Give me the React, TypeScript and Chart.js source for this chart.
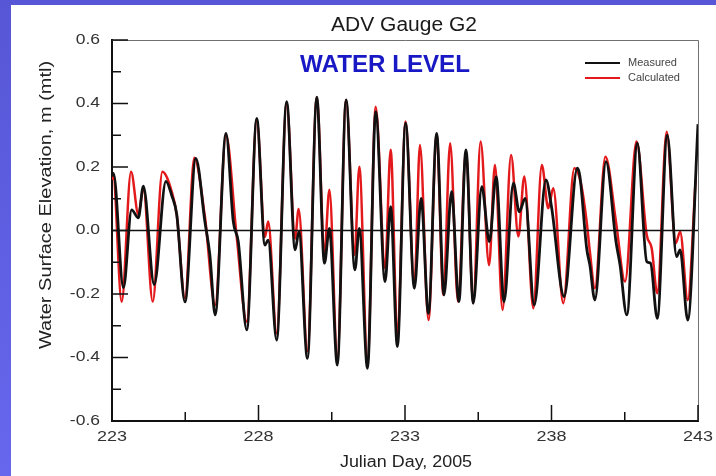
import React, { useEffect, useRef } from "react";
import { Chart, registerables } from "chart.js";

Chart.register(...registerables);

// Measured water level at ADV gauge G2 (Julian day, metres above MTL)
const measuredDays = [
  223.0, 223.05, 223.39, 223.67, 223.9, 224.07, 224.44, 224.84, 225.04, 225.21,
  225.49, 225.86, 226.17, 226.34, 226.52, 226.89, 227.14, 227.31, 227.6, 227.94,
  228.22, 228.33, 228.62, 228.96, 229.25, 229.38, 229.67, 229.99, 230.25, 230.42,
  230.69, 230.99, 231.29, 231.44, 231.72, 232.0, 232.32, 232.51, 232.74, 233.02,
  233.32, 233.55, 233.8, 234.08, 234.33, 234.59, 234.84, 235.08, 235.33, 235.62,
  235.88, 236.11, 236.38, 236.7, 236.9, 237.1, 237.41, 237.81, 238.0, 238.43,
  238.88, 238.97, 239.2, 239.31, 239.48, 239.86, 240.2, 240.34, 240.57, 240.93,
  241.25, 241.38, 241.61, 241.95, 242.27, 242.39, 242.65, 243.0,
];
const measuredLevels = [
  0.17, 0.18, -0.18, 0.065, 0.04, 0.14, -0.17, 0.155, 0.11, 0.05,
  -0.225, 0.227, 0.028, -0.077, -0.266, 0.306, 0.028, -0.035, -0.313, 0.353,
  -0.046, -0.03, -0.345, 0.406, -0.061, -0.004, -0.403, 0.42, -0.103, 0.007,
  -0.424, 0.411, -0.124, 0.007, -0.434, 0.374, -0.161, 0.075, -0.366, 0.338,
  -0.182, 0.101, -0.261, 0.306, -0.203, 0.122, -0.224, 0.254, -0.229, 0.138,
  -0.035, 0.17, -0.224, 0.149, 0.059, 0.101, -0.235, 0.159, 0.075, -0.208,
  0.196, 0.17, -0.056, -0.109, -0.219, 0.217, -0.035, -0.109, -0.266, 0.275,
  -0.098, -0.103, -0.277, 0.3, -0.082, -0.061, -0.282, 0.335,
];

// Model-calculated water level at the same gauge
const calculatedDays = [
  223.0, 223.04, 223.33, 223.65, 223.9, 224.07, 224.39, 224.72, 225.04, 225.21,
  225.49, 225.81, 226.17, 226.52, 226.89, 227.25, 227.6, 227.94, 228.22, 228.33,
  228.62, 228.96, 229.25, 229.37, 229.67, 229.99, 230.25, 230.42, 230.69, 230.99,
  231.28, 231.44, 231.72, 232.0, 232.32, 232.51, 232.74, 233.02, 233.32, 233.51,
  233.8, 234.08, 234.31, 234.54, 234.81, 235.08, 235.33, 235.58, 235.87, 236.07,
  236.33, 236.62, 236.87, 237.07, 237.38, 237.67, 237.89, 238.06, 238.4, 238.78,
  239.0, 239.2, 239.31, 239.48, 239.84, 240.2, 240.51, 240.9, 241.25, 241.42,
  241.61, 241.93, 242.24, 242.39, 242.65, 242.92,
];
const calculatedLevels = [
  0.16, 0.17, -0.224, 0.185, 0.05, 0.133, -0.224, 0.185, 0.122, 0.049,
  -0.213, 0.229, 0.044, -0.235, 0.3, -0.014, -0.287, 0.348, -0.02, 0.028,
  -0.324, 0.4, -0.025, 0.068, -0.38, 0.42, -0.067, 0.128, -0.403, 0.411,
  -0.077, 0.201, -0.418, 0.39, -0.119, 0.254, -0.329, 0.343, -0.177, 0.269,
  -0.282, 0.3, -0.203, 0.275, -0.224, 0.25, -0.229, 0.28, -0.109, 0.206,
  -0.25, 0.238, -0.019, 0.17, -0.245, 0.206, 0.07, 0.133, -0.229, 0.196,
  0.15, 0.028, -0.067, -0.182, 0.232, 0.028, -0.161, 0.28, -0.014, -0.056,
  -0.198, 0.311, -0.04, -0.004, -0.219, 0.16,
];

const dayRange = [223, 243];
const dayStep = 5;
const levelRange = [-0.6, 0.6];
const levelStep = 0.2;

const seriesNames = ["Measured", "Calculated"];
const seriesColors = ["#111111", "#e3191c"];

const chartTitle = "ADV Gauge G2";
const panelLabel = "WATER LEVEL";
const xTitle = "Julian Day, 2005";
const yTitle = "Water Surface Elevation, m (mtl)";

const FONT = "'Liberation Sans', Arial, Helvetica, sans-serif";

function toPoints(xs: number[], ys: number[]) {
  return xs.map((x, i) => ({ x, y: ys[i] }));
}

function drawText(
  ctx: CanvasRenderingContext2D,
  text: string,
  x: number,
  y: number,
  font: string,
  color: string,
  align: CanvasTextAlign,
  stretchX = 1,
  stretchY = 1,
  rotate = 0
) {
  ctx.save();
  ctx.translate(x, y);
  if (rotate) ctx.rotate(rotate);
  ctx.scale(stretchX, stretchY);
  ctx.font = font;
  ctx.fillStyle = color;
  ctx.textAlign = align;
  ctx.textBaseline = "middle";
  ctx.fillText(text, 0, 0);
  ctx.restore();
}

const framePlugin = {
  id: "gaugeFrame",
  beforeDraw(chart: any) {
    const { ctx, width, height } = chart;
    ctx.save();
    const g = ctx.createLinearGradient(0, 0, 0, height);
    g.addColorStop(0, "#5656d6");
    g.addColorStop(1, "#6767ee");
    ctx.fillStyle = g;
    ctx.fillRect(0, 0, width, height);
    ctx.fillStyle = "#ffffff";
    ctx.fillRect(11, 5, width - 11, height - 5);
    ctx.restore();
  },
  afterDatasetsDraw(chart: any) {
    const { ctx, chartArea } = chart;
    const y0 = chart.scales.y.getPixelForValue(0);
    ctx.save();
    ctx.strokeStyle = "#111111";
    ctx.lineWidth = 1.5;
    ctx.beginPath();
    ctx.moveTo(chartArea.left, y0);
    ctx.lineTo(chartArea.right, y0);
    ctx.stroke();
    ctx.restore();
  },
  afterDraw(chart: any) {
    const { ctx, chartArea } = chart;
    const xs = chart.scales.x;
    const ys = chart.scales.y;
    const { left, right, top, bottom } = chartArea;
    ctx.save();

    // thin top and right frame
    ctx.strokeStyle = "#707070";
    ctx.lineWidth = 1;
    ctx.beginPath();
    ctx.moveTo(left, top + 0.5);
    ctx.lineTo(right + 0.5, top + 0.5);
    ctx.lineTo(right + 0.5, bottom);
    ctx.stroke();

    // inward major/minor tick marks
    ctx.strokeStyle = "#111111";
    ctx.lineWidth = 1.5;
    ctx.beginPath();
    for (let v = dayRange[0]; v <= dayRange[1] + 1e-9; v += dayStep / 2) {
      const px = xs.getPixelForValue(v);
      const major = Math.abs(((v - dayRange[0]) / dayStep) % 1) < 1e-6;
      const len = major ? 16 : 9;
      ctx.moveTo(px, bottom);
      ctx.lineTo(px, bottom - len);
    }
    const nMinor = Math.round((levelRange[1] - levelRange[0]) / (levelStep / 2));
    for (let i = 0; i <= nMinor; i++) {
      const v = levelRange[0] + (i * levelStep) / 2;
      const py = ys.getPixelForValue(v);
      const len = i % 2 === 0 ? 16 : 9;
      ctx.moveTo(left, py);
      ctx.lineTo(left + len, py);
    }
    ctx.stroke();
    ctx.restore();

    // tick labels at the scales' own tick values
    xs.ticks.forEach((t: any) => {
      const px = xs.getPixelForValue(t.value);
      drawText(ctx, String(Math.round(t.value)), px, bottom + 16, `15px ${FONT}`, "#333333", "center", 1.2);
    });
    ys.ticks.forEach((t: any) => {
      const py = ys.getPixelForValue(t.value);
      drawText(ctx, Number(t.value).toFixed(1), 100, py, `14px ${FONT}`, "#333333", "right", 1.25);
    });

    // titles
    drawText(ctx, chartTitle, 404, 25.5, `20px ${FONT}`, "#1a1a1a", "center", 1.05);
    drawText(ctx, panelLabel, 385, 66, `bold 23px ${FONT}`, "#1818c4", "center", 1.05);
    drawText(ctx, xTitle, 406, 463, `16px ${FONT}`, "#222222", "center", 1.12);
    drawText(ctx, yTitle, 47, 205, `20px ${FONT}`, "#222222", "center", 1, 0.8, -Math.PI / 2);

    // legend
    const rows = [63, 78];
    seriesNames.forEach((name, i) => {
      ctx.save();
      ctx.strokeStyle = seriesColors[i];
      ctx.lineWidth = 2;
      ctx.beginPath();
      ctx.moveTo(585, rows[i]);
      ctx.lineTo(620, rows[i]);
      ctx.stroke();
      ctx.restore();
      drawText(ctx, name, 628, rows[i], `10px ${FONT}`, "#444444", "left", 1.1);
    });
  },
};

export default function App() {
  const canvasRef = useRef<HTMLCanvasElement | null>(null);

  useEffect(() => {
    const canvas = canvasRef.current;
    if (!canvas) return;
    const chart = new Chart(canvas, {
      type: "line",
      data: {
        datasets: [
          {
            label: seriesNames[0],
            data: toPoints(measuredDays, measuredLevels),
            borderColor: seriesColors[0],
            borderWidth: 2.8,
            pointRadius: 0,
            cubicInterpolationMode: "monotone",
            fill: false,
          },
          {
            label: seriesNames[1],
            data: toPoints(calculatedDays, calculatedLevels),
            borderColor: seriesColors[1],
            borderWidth: 2.5,
            pointRadius: 0,
            cubicInterpolationMode: "monotone",
            fill: false,
          },
        ],
      },
      options: {
        responsive: false,
        animation: false,
        events: [],
        layout: { padding: { left: 0, top: 40, right: 18, bottom: 0 } },
        plugins: {
          legend: { display: false },
          tooltip: { enabled: false },
          title: { display: false },
        },
        scales: {
          x: {
            type: "linear",
            min: dayRange[0],
            max: dayRange[1],
            afterFit: (scale: any) => {
              scale.height = 55;
            },
            grid: { display: false, drawTicks: false },
            border: { display: true, color: "#111111", width: 2 },
            ticks: { stepSize: dayStep, display: false },
          },
          y: {
            type: "linear",
            min: levelRange[0],
            max: levelRange[1],
            afterFit: (scale: any) => {
              scale.width = 112;
            },
            grid: { display: false, drawTicks: false },
            border: { display: true, color: "#111111", width: 2 },
            ticks: { stepSize: levelStep, display: false },
          },
        },
      },
      plugins: [framePlugin],
    });
    return () => chart.destroy();
  }, []);

  return (
    <div style={{ position: "absolute", left: 0, top: 0, width: 716, height: 476 }}>
      <canvas ref={canvasRef} width={716} height={476} style={{ display: "block" }} />
    </div>
  );
}
